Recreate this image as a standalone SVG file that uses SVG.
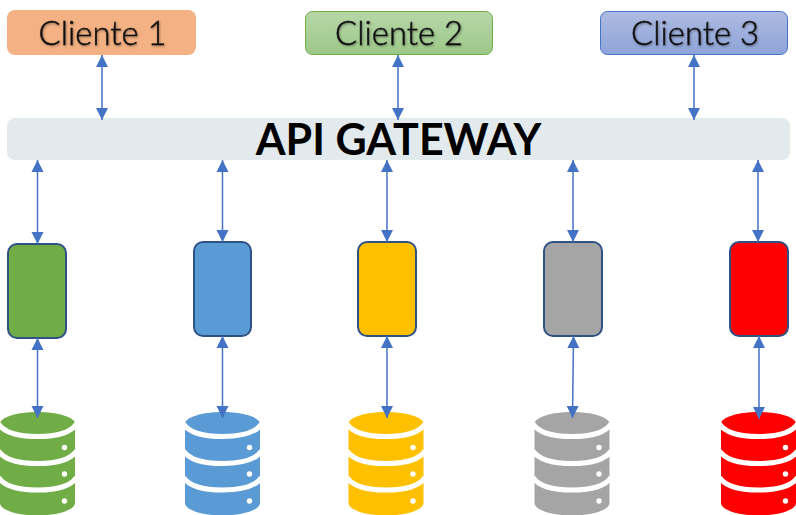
<svg xmlns="http://www.w3.org/2000/svg" xmlns:xlink="http://www.w3.org/1999/xlink" width="796" height="515" viewBox="0 0 796 515">
<style>
.cl{font-family:Lato,"Liberation Sans",sans-serif;font-size:32.800px;font-weight:300;fill:#111;stroke:#111;stroke-width:.45;text-anchor:middle;filter:url(#sh)}
.gw{font-family:Lato,"Liberation Sans",sans-serif;font-size:43px;font-weight:700;fill:#000;text-anchor:middle}
.svc{stroke:#2f5286;stroke-width:2}
.con line{stroke:#4472c4;stroke-width:1.5;marker-start:url(#a);marker-end:url(#a)}
.band{fill:none;stroke:#fff;stroke-width:5}
.dot{fill:#fff}
</style>
<defs>
<filter id="sh" x="-5%" y="-10%" width="110%" height="125%"><feDropShadow dx="0.800" dy="1" stdDeviation="0.900" flood-color="#000" flood-opacity="0.400"/></filter>
<marker id="a" markerUnits="userSpaceOnUse" markerWidth="13" markerHeight="13" refX="12" refY="6.500" orient="auto-start-reverse"><path d="M0 0.500L12 6.500L0 12.500Z" fill="#4472c4"/></marker>
<linearGradient id="gg" x1="0" y1="0" x2="0" y2="1"><stop offset="0" stop-color="#b7d6a8"/><stop offset="1" stop-color="#9dc888"/></linearGradient>
<linearGradient id="gb" x1="0" y1="0" x2="0" y2="1"><stop offset="0" stop-color="#aebbe2"/><stop offset="1" stop-color="#8ea3d8"/></linearGradient>
<g id="db">
<path d="M-37.500 12V91C-37.500 98 -20 103.500 0 103.500S37.500 98 37.500 91V12C37.500 5 20 0 0 0S-37.500 5 -37.500 12Z" fill="currentColor"/>
<path class="band" d="M-39 12C-33 21 -18 24.500 0 24.500S33 21 39 12"/>
<path class="band" d="M-39 39C-33 48 -18 51.500 0 51.500S33 48 39 39"/>
<path class="band" d="M-39 65.500C-33 74.500 -18 78 0 78S33 74.500 39 65.500"/>
<circle class="dot" cx="27" cy="35.500" r="2.700"/><circle class="dot" cx="27" cy="62" r="2.700"/><circle class="dot" cx="27" cy="89" r="2.700"/>
</g>
</defs>
<rect width="796" height="515" fill="#fff"/>
<g id="cliente1"><rect x="7" y="10" width="189" height="45" rx="8" fill="#f4b183"/><text class="cl" x="102.500" y="45">Cliente 1</text></g>
<g id="cliente2"><rect x="305.500" y="11.500" width="187" height="43" rx="7" fill="url(#gg)" stroke="#70ad47"/><text class="cl" x="399" y="45">Cliente 2</text></g>
<g id="cliente3"><rect x="600.500" y="11.500" width="187" height="43" rx="7" fill="url(#gb)" stroke="#4472c4"/><text class="cl" x="695" y="45">Cliente 3</text></g>
<g id="gateway"><rect x="7" y="118" width="783" height="42" rx="8" fill="#e3eaed"/><text class="gw" x="398.500" y="155">API GATEWAY</text></g>
<g id="svc1"><rect class="svc" x="8" y="244" width="58" height="94" rx="9" fill="#70ad47"/></g>
<g id="svc2"><rect class="svc" x="194" y="242" width="57" height="94" rx="9" fill="#5b9bd5"/></g>
<g id="svc3"><rect class="svc" x="358" y="242" width="58" height="94" rx="9" fill="#ffc000"/></g>
<g id="svc4"><rect class="svc" x="544" y="242" width="58" height="94" rx="9" fill="#a5a5a5"/></g>
<g id="svc5"><rect class="svc" x="730" y="242" width="58" height="94" rx="9" fill="#ff0000"/></g>
<g id="db1" color="#70ad47"><use xlink:href="#db" x="37.500" y="412"/></g>
<g id="db2" color="#5b9bd5"><use xlink:href="#db" x="222.500" y="412"/></g>
<g id="db3" color="#ffc000"><use xlink:href="#db" x="386" y="412"/></g>
<g id="db4" color="#a5a5a5"><use xlink:href="#db" x="572" y="412"/></g>
<g id="db5" color="#ff0000"><use xlink:href="#db" x="758.500" y="412"/></g>
<g id="connectors" class="con">
<line x1="102" y1="55" x2="102" y2="120"/>
<line x1="398" y1="55" x2="398" y2="120"/>
<line x1="694" y1="55" x2="694" y2="120"/>
<line x1="37.500" y1="160" x2="37.500" y2="244"/>
<line x1="222.500" y1="160" x2="222.500" y2="242"/>
<line x1="387" y1="160" x2="387" y2="242"/>
<line x1="573" y1="160" x2="573" y2="242"/>
<line x1="758" y1="160" x2="758" y2="242"/>
<line x1="37.500" y1="338" x2="37.500" y2="418"/>
<line x1="222.500" y1="336" x2="222.500" y2="418"/>
<line x1="387" y1="336" x2="387" y2="418"/>
<line x1="573.500" y1="336" x2="572.500" y2="418"/>
<line x1="759" y1="336" x2="759" y2="419"/>
</g>
</svg>
